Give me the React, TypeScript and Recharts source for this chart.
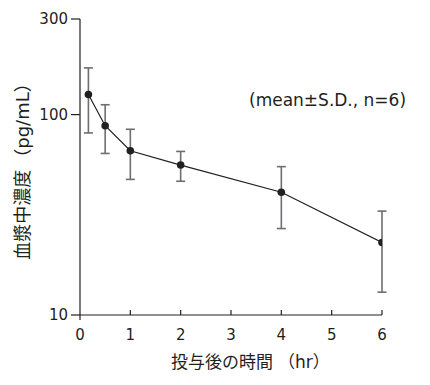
import React from "react";
import { LineChart, Line, XAxis, YAxis, ErrorBar, Label } from "recharts";

const times = [0.167, 0.5, 1, 2, 4, 6];
const means = [126, 88, 66, 56, 41, 23];
const sds = [45, 24, 18.5, 9.5, 14, 10];
const xTicks = [0, 1, 2, 3, 4, 5, 6];
const yTicks = [10, 100, 300];

const data = times.map((t, i) => ({ t, mean: means[i], sd: sds[i] }));

const FONT = "'DejaVu Sans', 'Noto Sans CJK JP', sans-serif";
const INK = "#231f20";
const TICK_MARGIN = 14;

const XTick = (props: any) => {
  const { x, y, payload } = props;
  const axisY = y - TICK_MARGIN;
  const isZero = payload.value === 0;
  return (
    <g>
      <line x1={x} x2={x} y1={axisY} y2={isZero ? axisY + 5 : axisY - 5} stroke={INK} strokeWidth={1.2} />
      <text x={x} y={y + 11} textAnchor="middle" fontSize={15} fontFamily={FONT} fill={INK}>
        {payload.value}
      </text>
    </g>
  );
};

export default function App() {
  return (
    <div style={{ position: "relative", width: 422, height: 377 }}>
      <LineChart width={422} height={377} data={data} margin={{ top: 11, right: 48, left: 0, bottom: 0 }}>
        <XAxis
          dataKey="t"
          type="number"
          domain={[0, 6]}
          ticks={xTicks}
          interval={0}
          tickSize={0}
          tickMargin={TICK_MARGIN}
          tick={<XTick />}
          tickLine={false}
          axisLine={{ stroke: INK, strokeWidth: 1.2 }}
          height={70}
          allowDataOverflow
        >
          <Label
            content={(p: any) => {
              const vb = p.viewBox;
              return (
                <text x={163} y={vb.y + 53} textAnchor="start" fontSize={17} fontFamily={FONT} fill={INK}>
                  投与後の時間<tspan dx={5}>（hr）</tspan>
                </text>
              );
            }}
          />
        </XAxis>
        <YAxis
          type="number"
          scale="log"
          domain={[10, 300]}
          ticks={yTicks}
          interval={0}
          width={72}
          tickSize={9}
          tickMargin={3}
          tick={{ fontSize: 15, fontFamily: FONT, fill: INK }}
          tickLine={{ stroke: INK, strokeWidth: 1.2 }}
          axisLine={{ stroke: INK, strokeWidth: 1.2 }}
          allowDataOverflow
        >
          <Label
            content={(p: any) => {
              const vb = p.viewBox;
              const cy = vb.y + vb.height / 2;
              return (
                <text
                  x={14}
                  y={cy}
                  transform={`rotate(-90, 14, ${cy})`}
                  textAnchor="middle"
                  dominantBaseline="central"
                  fontSize={18}
                  fontFamily={FONT}
                  fill={INK}
                >
                  血漿中濃度<tspan dx={3}>（pg/mL）</tspan>
                </text>
              );
            }}
          />
        </YAxis>
        <Line
          dataKey="mean"
          stroke={INK}
          strokeWidth={1.2}
          dot={{ r: 3.8, fill: INK, stroke: "none" }}
          activeDot={false}
          isAnimationActive={false}
        >
          <ErrorBar dataKey="sd" direction="y" width={4.5} stroke="#6d6e71" strokeWidth={1.6} />
        </Line>
      </LineChart>
      <div
        style={{
          position: "absolute",
          left: 241,
          top: 84,
          fontSize: 17,
          lineHeight: "17px",
          fontFamily: FONT,
          color: INK,
          whiteSpace: "nowrap",
        }}
      >
        (mean±S.D., n=6)
      </div>
    </div>
  );
}
